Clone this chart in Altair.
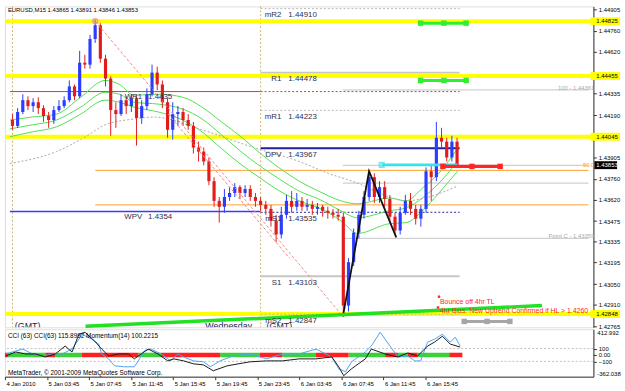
import altair as alt
import pandas as pd

FONT = "Liberation Sans"

# ---------------------------------------------------------------- axes data
X_MAX = 55.96                      # hours after 4 Jan 2010 23:45
TICK_HOURS = [0, 4, 8, 12, 16, 20, 24, 28, 32, 36, 40]
TICK_LABELS = ["4 Jan 2010", "5 Jan 03:45", "5 Jan 07:45", "5 Jan 11:45", "5 Jan 15:45",
               "5 Jan 19:45", "5 Jan 23:45", "6 Jan 03:45", "6 Jan 07:45", "6 Jan 11:45",
               "6 Jan 15:45"]
P_MIN, P_MAX = 1.427583, 1.44925
PRICE_TICKS = [1.44905, 1.44760, 1.44620, 1.44335, 1.44190, 1.43905,
               1.43760, 1.43620, 1.43475, 1.43335, 1.43195, 1.43050, 1.42910, 1.42765]
DAY_SEPARATORS = [0.25, 24.25]
DAY_START, DAY_END = 24.25, 43.5

# ---------------------------------------------------------------- candles (30 min)
BAR_HOURS = 0.5
OPEN0 = 1.44158
CLOSES = [1.44118, 1.44212, 1.44292, 1.44252, 1.44278, 1.44238, 1.44185, 1.44158, 1.44225, 1.44252,
          1.44292, 1.44385, 1.44318, 1.44545, 1.44532, 1.44705, 1.44798, 1.44572, 1.44438, 1.44225,
          1.44198, 1.44292, 1.44252, 1.44305, 1.44172, 1.44252, 1.44332, 1.44478, 1.44398, 1.44278,
          1.44092, 1.44198, 1.44212, 1.44158, 1.44118, 1.43972, 1.43945, 1.43878, 1.43745, 1.43612,
          1.43572, 1.43638, 1.43665, 1.43705, 1.43665, 1.43692, 1.43638, 1.43612, 1.43585, 1.43558,
          1.43478, 1.43385, 1.43518, 1.43612, 1.43572, 1.43612, 1.43572, 1.43585, 1.43558, 1.43572,
          1.43545, 1.43532, 1.43518, 1.43505, 1.42905, 1.43198, 1.43398, 1.43518, 1.43638, 1.43772,
          1.43638, 1.43705, 1.43625, 1.43505, 1.43412, 1.43532, 1.43612, 1.43558, 1.43492, 1.43558,
          1.43812, 1.43772, 1.44038, 1.44012, 1.43905, 1.44012, 1.43853]
HIGHS = [1.44198, 1.44238, 1.44332, 1.44318, 1.44305, 1.44312, 1.44258, 1.44212, 1.44252, 1.44292,
         1.44318, 1.44425, 1.44398, 1.44625, 1.44598, 1.44732, 1.44832, 1.44812, 1.44598, 1.44452,
         1.44278, 1.44332, 1.44318, 1.44332, 1.44318, 1.44292, 1.44372, 1.44532, 1.44518, 1.44425,
         1.44305, 1.44278, 1.44252, 1.44238, 1.44198, 1.44145, 1.44012, 1.43972, 1.43905, 1.43772,
         1.43638, 1.43692, 1.43705, 1.43732, 1.43718, 1.43718, 1.43718, 1.43665, 1.43638, 1.43612,
         1.43585, 1.43518, 1.43572, 1.43652, 1.43678, 1.43665, 1.43638, 1.43625, 1.43612, 1.43598,
         1.43585, 1.43572, 1.43558, 1.43558, 1.43532, 1.43225, 1.43425, 1.43545, 1.43678, 1.43812,
         1.43798, 1.43745, 1.43745, 1.43652, 1.43532, 1.43572, 1.43652, 1.43665, 1.43585, 1.43585,
         1.43838, 1.43852, 1.44145, 1.44105, 1.44038, 1.44052, 1.44038]
LOWS = [1.44092, 1.44105, 1.44198, 1.44225, 1.44212, 1.44198, 1.44145, 1.44105, 1.44132, 1.44212,
        1.44238, 1.44278, 1.44292, 1.44305, 1.44505, 1.44505, 1.44678, 1.44545, 1.44385, 1.44052,
        1.44105, 1.44185, 1.44198, 1.44212, 1.43985, 1.44132, 1.44225, 1.44318, 1.44358, 1.44238,
        1.44038, 1.44025, 1.44118, 1.44118, 1.44092, 1.43932, 1.43878, 1.43852, 1.43718, 1.43572,
        1.43465, 1.43532, 1.43612, 1.43638, 1.43625, 1.43638, 1.43612, 1.43572, 1.43545, 1.43518,
        1.43438, 1.43332, 1.43358, 1.43492, 1.43532, 1.43545, 1.43545, 1.43545, 1.43518, 1.43518,
        1.43505, 1.43492, 1.43492, 1.43478, 1.42832, 1.42865, 1.43172, 1.43358, 1.43492, 1.43612,
        1.43598, 1.43598, 1.43572, 1.43465, 1.43385, 1.43385, 1.43518, 1.43518, 1.43452, 1.43438,
        1.43532, 1.43612, 1.43745, 1.43972, 1.43878, 1.43878, 1.43838]

# ---------------------------------------------------------------- moving averages
MA_T = [0, 2.16, 4.51, 6.85, 9.2, 10.61, 12.02, 14.37, 16.71, 18.59, 20.47, 22.35, 24.23,
        26.1, 27.98, 29.86, 32.02, 33.62, 36.71, 38.31, 39.91, 41.41, 43.29]
MA_UPPER = [1.44158, 1.44178, 1.44198, 1.44312, 1.44425, 1.44398, 1.44325, 1.44332, 1.44312,
            1.44245, 1.44145, 1.44045, 1.43932, 1.43832, 1.43745, 1.43678, 1.43612, 1.43592,
            1.43632, 1.43612, 1.43698, 1.43792, 1.43965]
MA_MID = [1.44098, 1.44125, 1.44158, 1.44245, 1.44345, 1.44332, 1.44278, 1.44265, 1.44232,
          1.44165, 1.44058, 1.43945, 1.43845, 1.43758, 1.43678, 1.43625, 1.43545, 1.43498,
          1.43545, 1.43565, 1.43632, 1.43725, 1.43878]
MA_LOWER = [1.44045, 1.44078, 1.44112, 1.44198, 1.44292, 1.44278, 1.44245, 1.44212, 1.44158,
            1.44078, 1.43965, 1.43858, 1.43765, 1.43678, 1.43612, 1.43565, 1.43478, 1.43392,
            1.43458, 1.43465, 1.43545, 1.43658, 1.43812]
MA_SLOW_T = [0, 4.51, 7.32, 9.2, 12.02, 13.9, 18.59, 23.29, 27.98, 30.8, 33.62, 36.43, 38.31,
             40.19, 43.29]
MA_SLOW = [1.43865, 1.43945, 1.44045, 1.44125, 1.44165, 1.44178, 1.44092, 1.43978, 1.43878,
           1.43798, 1.43732, 1.43645, 1.43612, 1.43632, 1.43712]

# ---------------------------------------------------------------- levels
YELLOW_LEVELS = [1.44825, 1.44455, 1.44045, 1.42848]
CURRENT_PRICE = 1.43853
WEEK_NAMES = ["WR1", "WPV"]
WEEK_VALUES = [1.4435, 1.4354]
PIVOT_NAMES = ["mR2", "R1", "mR1", "DPV", "mS1", "S1", "mS2"]
PIVOT_VALUES = [1.44910, 1.44478, 1.44223, 1.43967, 1.43535, 1.43103, 1.42847]
FIB_ORANGE_START = 8.26
FIB_ORANGE_LEVELS = [1.43818, 1.43585]
FIB_GRAY_START = 32.2
FIB_GRAY_LEVELS = [1.44361, 1.43852, 1.43732, 1.43359]
FIB_TEXT_LEVELS = [1.44361, 1.43359]
FIB_TEXTS = ["100 - 1.44361", "Point C - 1.43359"]
FIB_MID_LEVEL = 1.43852
FIB_MID_TEXT = "50.0"

# ---------------------------------------------------------------- drawn objects
CHANNEL_T = [8.26, 32.21]
CHANNEL_P = [1.44825, 1.42832]
CHANNEL2_T = [15.31, 27.04]
CHANNEL2_P = [1.44198, 1.43225]
ZIGZAG_T = [32.21, 34.74, 37.37]
ZIGZAG_P = [1.42832, 1.43812, 1.43365]
TRENDLINE_T = [7.32, 51.46]
TRENDLINE_P = [1.42765, 1.42905]
CYAN_T = [35.96, 43.29]
CYAN_P = 1.43855
RED_MARK_T = [41.88, 44.69, 47.42]
RED_MARK_P = 1.43845
GREEN_MARK_T = [39.72, 41.97, 44.13]
GREEN_MARK_P = [1.44812, 1.44425]
GRAY_MARK_T = [43.94, 46.15, 48.36]
GRAY_MARK_P = 1.42798
NOTE_T = [41.6, 41.6]
NOTE_P = [1.42932, 1.42865]
NOTE_DOT_T = [41.5, 41.41]
NOTE_DOT_P = [1.42965, 1.42892]
NOTE_TEXTS = ["Bounce off 4hr TL", "4hr Bias: New Uptrend Confirmed if HL > 1.4260"]

# ---------------------------------------------------------------- CCI / Momentum window
CCI_T = [0.09, 1.03, 1.97, 2.91, 3.85, 4.79, 5.73, 6.38, 7.04, 7.61, 8.54, 9.2, 9.86, 10.8, 11.74,
         12.3, 12.96, 13.62, 14.55, 15.49, 16.06, 17.0, 17.93, 18.87, 19.81, 21.13, 23.29, 24.88,
         26.38, 27.98, 29.58, 31.08, 31.74, 32.21, 32.96, 34.27, 34.84, 36.15, 37.37, 38.31, 39.25,
         40.19, 40.85, 41.6, 42.35, 43.29]
CCI_V = [-15, 46, 16, 16, -31, 16, 139, 46, 323, 354, 215, 92, -15, 16, 16, -61, 16, 92, 16, -92,
         -61, -92, -138, -154, -246, -169, -107, -92, -92, -61, -61, -31, -184, -323, -215, -61, 92,
         16, -31, 31, -15, 139, 200, 292, 169, 123]
MOM_T = [0.09, 1.03, 1.69, 2.63, 3.57, 4.51, 5.45, 6.38, 7.04, 7.32, 8.26, 8.92, 9.2, 9.86, 10.42,
         11.36, 12.3, 12.68, 13.24, 13.9, 14.84, 15.77, 16.43, 17.0, 17.93, 18.87, 19.53, 20.47,
         21.69, 23.29, 24.88, 26.38, 27.98, 29.58, 31.08, 31.74, 32.39, 32.96, 34.27, 34.84, 35.68,
         36.15, 37.37, 38.31, 38.97, 39.53, 40.19, 40.85, 41.6, 42.35, 42.82, 43.29]
MOM_V = [16, 62, 92, 16, -15, 16, 16, 92, 246, 323, 246, 169, 16, -61, -169, -184, -184, -92, 62,
         92, 16, -92, 16, -31, -92, -107, -184, -92, -15, 16, -61, 16, 16, 92, -31, -215, -261,
         -107, 46, 139, 354, 246, -31, -15, -92, -92, 200, 246, 323, 200, 277, 139]
BAND_T0 = [0, 0.28, 3.85, 4.79, 7.32, 12.68, 14.84, 20.47, 24.23, 26.38, 29.58, 32.68, 36.15,
           37.37, 38.31, 39.25, 42.25]
BAND_T1 = [0.28, 3.85, 4.79, 7.32, 12.68, 14.84, 20.47, 24.23, 26.38, 29.58, 32.68, 36.15, 37.37,
           38.31, 39.25, 42.25, 43.5]
BAND_SIGN = [-1, 1, -1, 1, -1, 1, -1, 1, -1, 1, -1, 1, -1, 1, -1, 1, -1]
CCI_LEVELS = [100, -100]
CCI_MAX_TEXT, CCI_MIN_TEXT = "412.992", "-362.038"
SUB_MIN, SUB_MAX = -338, 400

# ---------------------------------------------------------------- colours
YELLOW = "#ffff00"
RED = "#ff2626"
BULL = "#2a3cff"
BEAR = "#e21c1c"
NAVY = "#20209a"
BLUE = "#3b3bff"
ORANGE = "#ffa030"
LGRAY = "#c4c4c4"
TAN = "#c9b47c"
MA_GREEN = "#4fe04f"
PINK = "#ef8a8a"
TEXT = "#30304f"

# ---------------------------------------------------------------- scales / helpers
xs = alt.Scale(domain=[0, X_MAX], nice=False, zero=False)
ys = alt.Scale(domain=[P_MIN, P_MAX], nice=False, zero=False)
y_axis = alt.Axis(orient="right", values=PRICE_TICKS, format=".5f", title=None, grid=False,
                  labelFontSize=6, labelFont=FONT, labelColor="#000", labelPadding=2,
                  tickSize=3, tickColor="#333", domainColor="#333", labelOverlap=False,
                  labelFlush=False)


def X(f="t"):
    return alt.X(f"{f}:Q", scale=xs, axis=None)


def Y(f="p"):
    return alt.Y(f"{f}:Q", scale=ys, axis=y_axis)


def seg(t0, t1, levels):
    return pd.DataFrame({"t0": [t0] * len(levels), "t1": [t1] * len(levels), "p": levels})


n = len(CLOSES)
opens = [OPEN0] + CLOSES[:-1]
candles = pd.DataFrame({
    "t": [BAR_HOURS * (i + 0.5) for i in range(n)],
    "o": opens, "h": HIGHS, "l": LOWS, "c": CLOSES,
})
candles["dir"] = ["up" if c >= o else "down" for o, c in zip(opens, CLOSES)]
dir_color = alt.Color("dir:N", scale=alt.Scale(domain=["up", "down"], range=[BULL, BEAR]),
                      legend=None)

layers = []

# background levels
layers.append(alt.Chart(seg(FIB_ORANGE_START, X_MAX, FIB_ORANGE_LEVELS)).mark_rule(
    color=ORANGE, strokeWidth=1).encode(x=X("t0"), x2="t1", y=Y()))
layers.append(alt.Chart(seg(FIB_GRAY_START, X_MAX, FIB_GRAY_LEVELS)).mark_rule(
    color=LGRAY, strokeWidth=1).encode(x=X("t0"), x2="t1", y=Y()))
layers.append(alt.Chart(pd.DataFrame({"t": DAY_SEPARATORS})).mark_rule(
    color=TAN, strokeDash=[2, 2], strokeWidth=1).encode(x=X()))
layers.append(alt.Chart(pd.DataFrame({"p": YELLOW_LEVELS})).mark_rule(
    color=YELLOW, strokeWidth=4).encode(y=Y()))

piv = pd.DataFrame({"name": PIVOT_NAMES, "p": PIVOT_VALUES, "t0": DAY_START, "t1": DAY_END})
layers.append(alt.Chart(piv).transform_filter(
    "indexof(['mR2','mR1','mS2'], datum.name) >= 0").mark_rule(
    color="#b8b8b8", strokeDash=[2, 2]).encode(x=X("t0"), x2="t1", y=Y()))
layers.append(alt.Chart(piv).transform_filter(
    "indexof(['R1','S1'], datum.name) >= 0").mark_rule(
    color="#c6c6c6", strokeWidth=2).encode(x=X("t0"), x2="t1", y=Y()))
layers.append(alt.Chart(piv).transform_filter("datum.name == 'DPV'").mark_rule(
    color=NAVY, strokeWidth=2).encode(x=X("t0"), x2="t1", y=Y()))
layers.append(alt.Chart(piv).transform_filter("datum.name == 'mS1'").mark_rule(
    color=NAVY, strokeDash=[2, 2], strokeWidth=1).encode(x=X("t0"), x2="t1", y=Y()))

wk = pd.DataFrame({"name": WEEK_NAMES, "p": WEEK_VALUES, "t0": 0.0, "t1": DAY_START,
                   "t2": DAY_END})
layers.append(alt.Chart(wk).transform_filter("datum.name == 'WR1'").mark_rule(
    color=RED, strokeWidth=1).encode(x=X("t0"), x2="t1", y=Y()))
layers.append(alt.Chart(wk).transform_filter("datum.name == 'WR1'").mark_rule(
    color=RED, strokeWidth=1, strokeDash=[2, 2]).encode(x=X("t1"), x2="t2", y=Y()))
layers.append(alt.Chart(wk).transform_filter("datum.name == 'WPV'").mark_rule(
    color=BLUE, strokeWidth=1.5).encode(x=X("t0"), x2="t1", y=Y()))

# moving averages
ma = pd.DataFrame({"t": MA_T, "upper": MA_UPPER, "mid": MA_MID, "lower": MA_LOWER})
layers.append(alt.Chart(ma).transform_fold(["upper", "mid", "lower"], as_=["band", "p"]).mark_line(
    color=MA_GREEN, strokeWidth=1, interpolate="monotone").encode(x=X(), y=Y(), detail="band:N"))
layers.append(alt.Chart(pd.DataFrame({"t": MA_SLOW_T, "p": MA_SLOW})).mark_line(
    color="#a8a8a8", strokeDash=[2, 2], strokeWidth=1, interpolate="monotone").encode(x=X(), y=Y()))

# candles
layers.append(alt.Chart(candles).mark_rule(strokeWidth=1).encode(
    x=X(), y=Y("l"), y2="h", color=dir_color))
layers.append(alt.Chart(candles).mark_bar(width=3.2).encode(
    x=X(), y=Y("o"), y2="c", color=dir_color))

# drawn objects
chan = pd.DataFrame({"t": CHANNEL_T + CHANNEL2_T, "p": CHANNEL_P + CHANNEL2_P,
                     "k": ["a", "a", "b", "b"]})
layers.append(alt.Chart(chan).mark_line(color=PINK, strokeDash=[3, 2], strokeWidth=1).encode(
    x=X(), y=Y(), detail="k:N"))
layers.append(alt.Chart(pd.DataFrame({"t": CHANNEL_T[:1], "p": CHANNEL_P[:1]})).mark_point(
    shape="circle", filled=False, color=PINK, size=22).encode(x=X(), y=Y()))
layers.append(alt.Chart(pd.DataFrame({"t": ZIGZAG_T, "p": ZIGZAG_P})).mark_line(
    color="#111111", strokeWidth=1.8).encode(x=X(), y=Y()))
layers.append(alt.Chart(pd.DataFrame({"t": TRENDLINE_T, "p": TRENDLINE_P})).mark_line(
    color="#22e022", strokeWidth=3.5).encode(x=X(), y=Y()))
layers.append(alt.Chart(pd.DataFrame({"t0": [CYAN_T[0]], "t1": [CYAN_T[1]], "p": [CYAN_P]})).mark_rule(
    color="#35e3ef", strokeWidth=3).encode(x=X("t0"), x2="t1", y=Y()))
layers.append(alt.Chart(pd.DataFrame({"t": [CYAN_T[0]], "p": [CYAN_P]})).mark_square(
    filled=False, color="#35e3ef", size=18).encode(x=X(), y=Y()))

mk_red = pd.DataFrame({"t": RED_MARK_T, "p": RED_MARK_P})
layers.append(alt.Chart(mk_red).mark_line(color=RED, strokeWidth=3.5).encode(x=X(), y=Y()))
layers.append(alt.Chart(mk_red).mark_square(color=RED, size=30, opacity=1).encode(x=X(), y=Y()))
mk_green = pd.DataFrame({"t": GREEN_MARK_T * 2,
                         "p": [GREEN_MARK_P[0]] * 3 + [GREEN_MARK_P[1]] * 3,
                         "k": ["a"] * 3 + ["b"] * 3})
layers.append(alt.Chart(mk_green).mark_line(color="#2ff02f", strokeWidth=3).encode(
    x=X(), y=Y(), detail="k:N"))
layers.append(alt.Chart(mk_green).mark_square(color="#2ff02f", size=30, opacity=1).encode(
    x=X(), y=Y()))
mk_gray = pd.DataFrame({"t": GRAY_MARK_T, "p": GRAY_MARK_P})
layers.append(alt.Chart(mk_gray).mark_line(color="#a6a6a6", strokeWidth=3).encode(x=X(), y=Y()))
layers.append(alt.Chart(mk_gray).mark_square(color="#a6a6a6", size=30, opacity=1).encode(
    x=X(), y=Y()))

notes = pd.DataFrame({"t": NOTE_T, "p": NOTE_P, "txt": NOTE_TEXTS})
layers.append(alt.Chart(notes).mark_text(align="left", baseline="middle", fontSize=7,
                                         font=FONT, color=RED).encode(x=X(), y=Y(), text="txt:N"))
layers.append(alt.Chart(pd.DataFrame({"t": NOTE_DOT_T, "p": NOTE_DOT_P})).mark_square(
    color=RED, size=6, opacity=1).encode(x=X(), y=Y()))

# level labels
layers.append(alt.Chart(piv).mark_text(align="right", baseline="middle", dy=6.5, fontSize=8,
                                       font=FONT, color=TEXT).encode(
    x=alt.value(280), y=Y(), text="name:N"))
layers.append(alt.Chart(piv).mark_text(align="left", baseline="middle", dy=6.5, fontSize=8,
                                       font=FONT, color=TEXT).encode(
    x=alt.value(287), y=Y(), text=alt.Text("p:Q", format=".5f")))
layers.append(alt.Chart(wk).mark_text(align="right", baseline="middle", dy=5.5, fontSize=8,
                                      font=FONT, color=TEXT).encode(
    x=alt.value(139), y=Y(), text="name:N"))
layers.append(alt.Chart(wk).mark_text(align="left", baseline="middle", dy=5.5, fontSize=8,
                                      font=FONT, color=TEXT).encode(
    x=alt.value(145), y=Y(), text=alt.Text("p:Q", format=".4f")))
layers.append(alt.Chart(pd.DataFrame({"p": FIB_TEXT_LEVELS, "txt": FIB_TEXTS})).mark_text(
    align="right", baseline="middle", dy=-2, fontSize=6, font=FONT, color="#a9a9a9").encode(
    x=alt.value(597), y=Y(), text="txt:N"))
layers.append(alt.Chart(pd.DataFrame({"p": [FIB_MID_LEVEL], "txt": [FIB_MID_TEXT]})).mark_text(
    align="right", baseline="middle", fontSize=6, font=FONT, color=ORANGE).encode(
    x=alt.value(597), y=Y(), text="txt:N"))

# separators' texts
layers.append(alt.Chart(pd.DataFrame({"txt": ["(GMT)", "Wednesday", "(GMT)"],
                                      "xp": [10, 203, 265]})).mark_text(
    align="left", baseline="middle", fontSize=9, font=FONT, color="#1b1b4f", clip=True).encode(
    x=alt.X("xp:Q", scale=None, axis=None), y=alt.value(323.5), text="txt:N"))
layers.append(alt.Chart(pd.DataFrame({"txt": ["EURUSD,M15  1.43865 1.43891 1.43846 1.43853"]})
              ).mark_text(align="left", baseline="middle", fontSize=6, font=FONT, color="#000").encode(
    x=alt.value(3), y=alt.value(4), text="txt:N"))

# highlighted price labels on the axis
hl = pd.DataFrame({"p": YELLOW_LEVELS})
layers.append(alt.Chart(hl).mark_rule(color=YELLOW, strokeWidth=8).encode(
    x=alt.value(593), x2=alt.value(623), y=Y()))
layers.append(alt.Chart(hl).mark_text(align="left", baseline="middle", fontSize=6, font=FONT,
                                      color="#000").encode(
    x=alt.value(599), y=Y(), text=alt.Text("p:Q", format=".5f")))
cur = pd.DataFrame({"p": [CURRENT_PRICE]})
layers.append(alt.Chart(cur).mark_rule(color="#000", strokeWidth=8).encode(
    x=alt.value(597), x2=alt.value(620), y=Y()))
layers.append(alt.Chart(cur).mark_text(align="left", baseline="middle", fontSize=6, font=FONT,
                                       color="#fff").encode(
    x=alt.value(599), y=Y(), text=alt.Text("p:Q", format=".5f")))

main = alt.layer(*layers).properties(width=596, height=325)

# ---------------------------------------------------------------- sub window
sys_ = alt.Scale(domain=[SUB_MIN, SUB_MAX], nice=False, zero=False)
label_js = "[" + ",".join("'" + s + "'" for s in TICK_LABELS) + "]"
sub_xaxis = alt.Axis(orient="bottom", values=TICK_HOURS, title=None, grid=False,
                     labelExpr=label_js + "[round(datum.value / 4)]",
                     labelAlign="left", labelOffset=1, labelPadding=1, labelFontSize=6,
                     labelFont=FONT, labelColor="#000", tickSize=3, tickColor="#333",
                     domainColor="#333", labelFlush=False, labelOverlap=False, labelAngle=0)
sub_yaxis = alt.Axis(orient="right", values=[100, 0, -100], title=None, grid=False,
                     labelExpr="datum.value == 0 ? '0.00' : format(datum.value, 'd')",
                     labelFontSize=6, labelFont=FONT, labelColor="#000", labelPadding=2,
                     tickSize=3, tickColor="#333", domainColor="#333", labelOverlap=False,
                     labelFlush=False)


def SX(f="t"):
    return alt.X(f"{f}:Q", scale=xs, axis=sub_xaxis)


def SY(f="v"):
    return alt.Y(f"{f}:Q", scale=sys_, axis=sub_yaxis)


sub_layers = []
sub_layers.append(alt.Chart(pd.DataFrame({"v": CCI_LEVELS})).mark_rule(
    color="#c0c0c0", strokeDash=[2, 2]).encode(y=SY()))
band = pd.DataFrame({"t0": BAND_T0, "t1": BAND_T1, "sign": BAND_SIGN})
sub_layers.append(alt.Chart(band).transform_filter("datum.sign > 0").mark_rect(
    color="#3ad23a").encode(
    x=SX("t0"), x2="t1",
    y=alt.YDatum(35, scale=sys_, axis=sub_yaxis), y2=alt.Y2Datum(-35)))
sub_layers.append(alt.Chart(band).transform_filter("datum.sign < 0").mark_rect(
    color="#ff2020").encode(
    x=SX("t0"), x2="t1",
    y=alt.YDatum(35, scale=sys_, axis=sub_yaxis), y2=alt.Y2Datum(-35)))
sub_layers.append(alt.Chart(pd.DataFrame({"t": MOM_T, "v": MOM_V})).mark_line(
    color="#4da3f5", strokeWidth=1).encode(x=SX(), y=SY()))
sub_layers.append(alt.Chart(pd.DataFrame({"t": CCI_T, "v": CCI_V})).mark_line(
    color="#1a1a1a", strokeWidth=1).encode(x=SX(), y=SY()))
sub_layers.append(alt.Chart(pd.DataFrame({"txt": [
    "CCI  (63)   CCI(63) 115.8992   Momentum(14) 100.2215"]})).mark_text(
    align="left", baseline="middle", fontSize=6.5, font=FONT, color="#000").encode(
    x=alt.value(3), y=alt.value(7), text="txt:N"))
sub_layers.append(alt.Chart(pd.DataFrame({"txt": [
    "MetaTrader, \u00a9 2001-2009 MetaQuotes Software Corp."]})).mark_text(
    align="left", baseline="middle", fontSize=6.5, font=FONT, color="#000").encode(
    x=alt.value(3), y=alt.value(44), text="txt:N"))
sub_layers.append(alt.Chart(pd.DataFrame({"txt": [CCI_MAX_TEXT, CCI_MIN_TEXT],
                                          "yp": [4, 45]})).mark_text(
    align="left", baseline="middle", fontSize=6, font=FONT, color="#000").encode(
    x=alt.value(600), y=alt.Y("yp:Q", scale=None, axis=None), text="txt:N"))

sub = alt.layer(*sub_layers).properties(width=596, height=48)

chart = alt.vconcat(main, sub, spacing=2, bounds="flush").properties(
    padding={"left": 2, "top": 3, "right": 0, "bottom": 0},
    background="white",
).configure_view(stroke="#555555", strokeWidth=1).configure(font=FONT)

chart.save("out.html", embed_options={"renderer": "svg", "actions": False})
